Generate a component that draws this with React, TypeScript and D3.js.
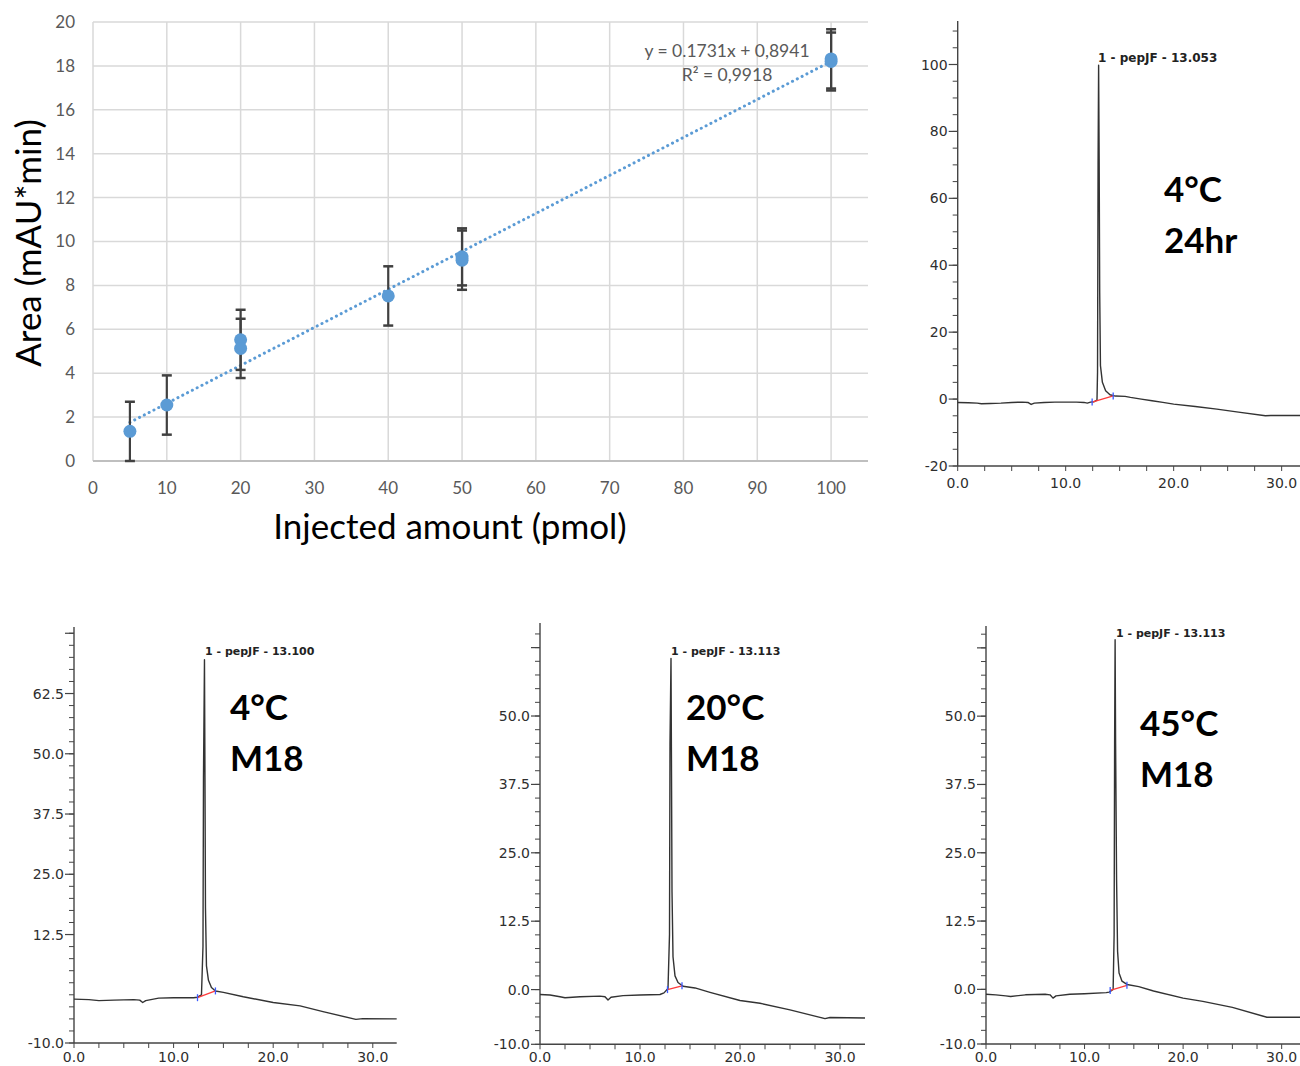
import React from "react";
import * as d3 from "d3";

const W = 1300;
const H = 1066;

// calibration curve (injected pmol vs peak area)
const amounts = [5, 10, 20, 20, 40, 50, 50, 100, 100];
const areas = [1.35, 2.55, 5.52, 5.13, 7.52, 9.3, 9.15, 18.32, 18.2];
const errors = [1.35, 1.35, 1.37, 1.35, 1.35, 1.3, 1.35, 1.35, 1.32];
const xTickVals = d3.range(0, 101, 10);
const yTickVals = d3.range(0, 21, 2);
const slope = 0.1731;
const intercept = 0.8941;
const fitRange = [5, 100];
const eqLine = "y = 0.1731x + 0,8941";
const r2Line = "R² = 0,9918";

// chromatogram traces [time (min), mAU]
const traceA = [
  [0, -1.0], [1, -1.1], [1.8, -1.2], [2.2, -1.4], [3, -1.3], [4, -1.2], [5, -1.0], [6, -0.9],
  [6.5, -1.0], [6.8, -1.6], [7.1, -1.2], [8, -1.0], [9, -0.9], [10, -0.9], [11, -0.9],
  [11.7, -1.0], [12.0, -1.2], [12.3, -0.9], [12.6, -0.8], [12.9, -0.3], [12.95, 8], [13.0, 70],
  [13.05, 99.8], [13.1, 72], [13.15, 32], [13.22, 10], [13.4, 5], [13.7, 2.5], [14.1, 1.3],
  [14.6, 0.9], [15.5, 0.8], [16, 0.5], [17, 0], [18, -0.5], [19, -1.0], [20, -1.5], [22, -2.2],
  [24, -3.0], [26, -3.9], [28.5, -5.0], [29, -4.9], [31.7, -4.9],
];
const traceB = [
  [0, -0.9], [1.5, -1.0], [2.5, -1.2], [4, -1.1], [6, -1.0], [6.6, -1.1], [6.9, -1.6], [7.2, -1.2],
  [8.5, -0.7], [10, -0.6], [12, -0.6], [12.4, -0.5], [12.8, 0], [12.95, 10], [13.0, 45],
  [13.1, 69.5], [13.15, 45], [13.2, 18], [13.3, 6], [13.5, 3], [13.8, 1.5], [14.2, 0.8],
  [15, 0.5], [17, -0.4], [20, -1.6], [22.7, -2.3], [25, -3.5], [28.3, -5.1], [29, -4.95], [32.4, -5.0],
];
const traceC = [
  [0, -0.9], [1, -1.0], [2, -1.3], [2.5, -1.5], [4, -1.3], [6, -1.2], [6.5, -1.3], [6.8, -1.9],
  [7.1, -1.4], [8.3, -1.1], [10, -1.0], [12, -0.9], [12.4, -0.6], [12.8, 0.2], [12.95, 10],
  [13.0, 45], [13.1, 60.5], [13.15, 40], [13.2, 18], [13.3, 6], [13.5, 2.5], [13.8, 1.3],
  [14.3, 0.6], [15.5, 0.3], [17, -0.5], [20, -2.0], [22, -2.5], [25, -3.7], [28.5, -5.3],
  [29, -5.1], [32.5, -5.2],
];
const traceD = [
  [0, -0.9], [1, -1.0], [2, -1.2], [2.5, -1.3], [4, -1.0], [6, -0.9], [6.5, -1.0], [6.8, -1.6],
  [7.1, -1.2], [8.5, -0.9], [10, -0.8], [12.2, -0.6], [12.5, -0.5], [12.9, 0], [13.0, 10],
  [13.05, 45], [13.1, 64], [13.15, 45], [13.25, 20], [13.35, 7], [13.5, 3], [13.8, 1.5],
  [14.3, 0.9], [15.5, 0.5], [17, -0.3], [20, -1.6], [22, -2.2], [25, -3.3], [28.5, -5.1], [31.9, -5.1],
];

// integration baselines (start, end)
const baseA = [[12.45, -0.9], [14.4, 0.95]];
const baseB = [[12.4, -0.6], [14.2, 0.8]];
const baseC = [[12.75, 0.0], [14.2, 0.7]];
const baseD = [[12.6, -0.2], [14.3, 0.75]];

const peakLabels = ["1 - pepJF - 13.053", "1 - pepJF - 13.100", "1 - pepJF - 13.113", "1 - pepJF - 13.113"];
const conditions = [["4°C", "24hr"], ["4°C", "M18"], ["20°C", "M18"], ["45°C", "M18"]];

const yLabelsA = [-20, 0, 20, 40, 60, 80, 100];
const yLabelsB = [-10, 12.5, 25, 37.5, 50, 62.5];
const yLabelsCD = [-10, 0, 12.5, 25, 37.5, 50];
const xLabelsChrom = [0, 10, 20, 30];

const int = (v) => String(v);
const oneDec = (v) => v.toFixed(1);

const panels = [
  {
    trace: traceA, base: baseA, label: peakLabels[0], tag: conditions[0],
    xMax: 31.7, xr: [957.7, 1300], yd: [-20, 113], yr: [466, 21], minorStep: 5,
    yLabels: yLabelsA, yLong: [], fmt: int,
    labelPos: [1098, 62], labelSize: 12, tagPos: [1164, 202], xLabY: 22,
  },
  {
    trace: traceB, base: baseB, label: peakLabels[1], tag: conditions[1],
    xMax: 32.4, xr: [74, 396.7], yd: [-10, 76.3], yr: [1043, 627], minorStep: 2.5,
    yLabels: yLabelsB, yLong: [75], fmt: oneDec,
    labelPos: [205, 655], labelSize: 11, tagPos: [230, 720], xLabY: 19,
  },
  {
    trace: traceC, base: baseC, label: peakLabels[2], tag: conditions[2],
    xMax: 32.5, xr: [540, 865], yd: [-10, 67], yr: [1044.3, 623], minorStep: 2.5,
    yLabels: yLabelsCD, yLong: [62.5], fmt: oneDec,
    labelPos: [671, 655], labelSize: 11, tagPos: [686, 720], xLabY: 18,
  },
  {
    trace: traceD, base: baseD, label: peakLabels[3], tag: conditions[3],
    xMax: 31.86, xr: [986, 1300], yd: [-10, 66.5], yr: [1044, 626], minorStep: 2.5,
    yLabels: yLabelsCD, yLong: [62.5], fmt: oneDec,
    labelPos: [1116, 637], labelSize: 11, tagPos: [1140, 736], xLabY: 18,
  },
];

const AXIS = "#444";
const TXT = "#2e2e2e";

const Chromatogram = ({ p }) => {
  const x = d3.scaleLinear().domain([0, p.xMax]).range(p.xr);
  const y = d3.scaleLinear().domain(p.yd).range(p.yr);
  const line = d3.line().x((d) => x(d[0])).y((d) => y(d[1]));
  const minorY = d3.range(p.yd[0], p.yd[1] - 1, p.minorStep);
  const minorX = d3.range(0, p.xMax, 2.5);
  const x0 = x(0);
  const yb = y(p.yd[0]);
  return (
    <g>
      <line x1={x0} x2={x0} y1={yb} y2={y(p.yd[1])} stroke={AXIS} strokeWidth={1.4} />
      <line x1={x0} x2={x(p.xMax)} y1={yb} y2={yb} stroke={AXIS} strokeWidth={1.4} />
      {minorY.map((v) => (
        <line key={"my" + v} x1={x0 - 5} x2={x0} y1={y(v)} y2={y(v)} stroke={AXIS} strokeWidth={1} />
      ))}
      {p.yLabels.concat(p.yLong).map((v) => (
        <line key={"My" + v} x1={x0 - 9} x2={x0} y1={y(v)} y2={y(v)} stroke={AXIS} strokeWidth={1.2} />
      ))}
      {p.yLabels.map((v) => (
        <text key={"ly" + v} x={x0 - 10} y={y(v)} dy="0.36em" textAnchor="end"
          fontFamily="DejaVu Sans" fontSize={14} fill={TXT}>{p.fmt(v)}</text>
      ))}
      {minorX.map((v) => (
        <line key={"mx" + v} x1={x(v)} x2={x(v)} y1={yb} y2={yb + 5} stroke={AXIS} strokeWidth={1} />
      ))}
      {xLabelsChrom.map((v) => (
        <text key={"lx" + v} x={x(v)} y={yb + p.xLabY} textAnchor="middle"
          fontFamily="DejaVu Sans" fontSize={14} fill={TXT}>{oneDec(v)}</text>
      ))}
      <path d={line(p.trace)} fill="none" stroke="#333" strokeWidth={1.4} strokeLinejoin="round" />
      <line x1={x(p.base[0][0])} y1={y(p.base[0][1])} x2={x(p.base[1][0])} y2={y(p.base[1][1])}
        stroke="#ff3b3b" strokeWidth={1.3} />
      {p.base.map((b, i) => (
        <line key={"bm" + i} x1={x(b[0])} x2={x(b[0])} y1={y(b[1]) - 3.5} y2={y(b[1]) + 3.5}
          stroke="#3b5bff" strokeWidth={1.3} />
      ))}
      <text x={p.labelPos[0]} y={p.labelPos[1]} fontFamily="DejaVu Sans" fontWeight="bold"
        fontSize={p.labelSize} fill="#222">{p.label}</text>
      {p.tag.map((t, i) => (
        <text key={"tag" + i} x={p.tagPos[0]} y={p.tagPos[1] + i * 51} fontFamily="Lato"
          fontWeight="bold" fontSize={35} fill="#000">{t}</text>
      ))}
    </g>
  );
};

const Calibration = () => {
  const x = d3.scaleLinear().domain([0, 105]).range([93, 868]);
  const y = d3.scaleLinear().domain([0, 20]).range([461, 22]);
  const fit = d3.line().x((d) => x(d)).y((d) => y(slope * d + intercept));
  const pts = amounts.map((a, i) => ({ a, v: areas[i], e: errors[i] }));
  return (
    <g>
      {xTickVals.map((v) => (
        <line key={"gx" + v} x1={x(v)} x2={x(v)} y1={y(0)} y2={y(20)} stroke="#d9d9d9" strokeWidth={1.5} />
      ))}
      {yTickVals.map((v) => (
        <line key={"gy" + v} x1={x(0)} x2={x(105)} y1={y(v)} y2={y(v)}
          stroke={v === 0 ? "#bfbfbf" : "#d9d9d9"} strokeWidth={v === 0 ? 2 : 1.5} />
      ))}
      {yTickVals.map((v) => (
        <text key={"ty" + v} x={75} y={y(v)} dy="0.35em" textAnchor="end" fontFamily="Lato"
          fontSize={17} fill="#595959">{v}</text>
      ))}
      {xTickVals.map((v) => (
        <text key={"tx" + v} x={x(v)} y={494} textAnchor="middle" fontFamily="Lato"
          fontSize={17} fill="#595959">{v}</text>
      ))}
      <path d={fit(fitRange)} fill="none" stroke="#5b9bd5" strokeWidth={3}
        strokeDasharray="0.1 5.3" strokeLinecap="round" />
      {pts.map((d, i) => (
        <g key={"eb" + i} stroke="#404040">
          <line x1={x(d.a)} x2={x(d.a)} y1={y(d.v + d.e)} y2={y(d.v - d.e)} strokeWidth={2.2} />
          <line x1={x(d.a) - 5} x2={x(d.a) + 5} y1={y(d.v + d.e)} y2={y(d.v + d.e)} strokeWidth={2.5} />
          <line x1={x(d.a) - 5} x2={x(d.a) + 5} y1={y(d.v - d.e)} y2={y(d.v - d.e)} strokeWidth={2.5} />
        </g>
      ))}
      {pts.map((d, i) => (
        <circle key={"pt" + i} cx={x(d.a)} cy={y(d.v)} r={6.5} fill="#5b9bd5" />
      ))}
      <text x={727} y={57} textAnchor="middle" fontFamily="Lato" fontSize={17.5} fill="#595959">{eqLine}</text>
      <text x={727} y={81} textAnchor="middle" fontFamily="Lato" fontSize={17.5} fill="#595959">{r2Line}</text>
      <text x={450} y={539} textAnchor="middle" fontFamily="Lato" fontSize={35} fill="#000">
        Injected amount (pmol)
      </text>
      <text transform="translate(41,243) rotate(-90)" textAnchor="middle" fontFamily="Lato"
        fontSize={35} fill="#000">Area (mAU*min)</text>
    </g>
  );
};

export default function App() {
  return (
    <svg width={W} height={H} style={{ position: "absolute", left: 0, top: 0, background: "#fff" }}>
      <rect width={W} height={H} fill="#fff" />
      <Calibration />
      {panels.map((p, i) => (
        <Chromatogram key={i} p={p} />
      ))}
    </svg>
  );
}
